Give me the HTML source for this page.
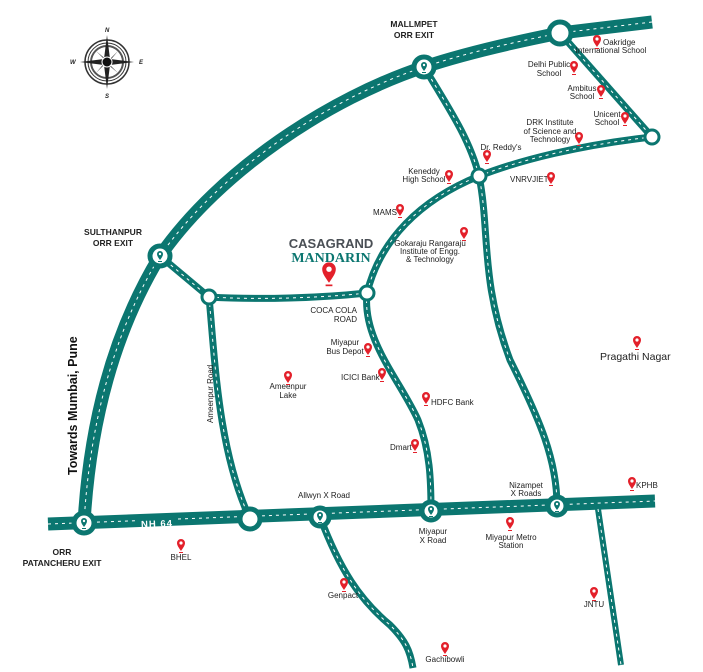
<!DOCTYPE html>
<html><head><meta charset="utf-8"><style>
html,body{margin:0;padding:0;background:#fff;}
svg{display:block;}
text{font-family:"Liberation Sans",sans-serif;fill:#222;}
.s{font-size:8px;}
.m{font-size:8.5px;font-weight:bold;}
</style></head><body>
<svg width="703" height="672" viewBox="0 0 703 672" xmlns="http://www.w3.org/2000/svg">
<defs>
<g id="pin"><path d="M0,4 C-2,1 -4,-1.5 -4,-4 A4,4 0 1 1 4,-4 C4,-1.5 2,1 0,4Z" fill="#e3202a"/><circle cx="0" cy="-4" r="1.6" fill="#fff"/><rect x="-2" y="5" width="4" height="1" fill="#e3202a"/></g>
<g id="tpin"><path d="M0,3 C-1.5,1 -3,-1 -3,-3 A3,3 0 1 1 3,-3 C3,-1 1.5,1 0,3Z" fill="#0b7670"/><circle cx="0" cy="-3" r="1.2" fill="#fff"/><rect x="-2" y="4" width="4" height="1" fill="#0b7670"/></g>
</defs>
<g fill="none" stroke="#0b7670" stroke-linecap="butt">
<path d="M652,22 L560,33 C500,45 460,55 424,67 C330,98 220,170 160,256 C115,330 90,420 84,523" stroke-width="13"/>
<path d="M48,524 L655,501" stroke-width="13"/>
<path d="M424,67 C450,110 470,140 479,176 C490,230 480,280 510,360 C540,420 557,460 557,506" stroke-width="7"/>
<path d="M560,33 L652,137" stroke-width="7"/>
<path d="M652,137 C580,145 520,160 479,176 C420,200 380,240 367,293" stroke-width="7"/>
<path d="M367,293 C362,340 400,380 418,420 C430,450 431,480 431,511" stroke-width="7"/>
<path d="M160,256 L209,297" stroke-width="7"/>
<path d="M209,297 C260,300 320,298 367,293" stroke-width="7"/>
<path d="M209,297 C215,360 218,450 250,519" stroke-width="7"/>
<path d="M320,517 C340,570 360,600 390,625 C405,640 410,650 413,668" stroke-width="7"/>
<path d="M598,509 L621,665" stroke-width="6"/>
</g>
<g fill="none" stroke="#fff" stroke-width="1" stroke-dasharray="3,4">
<path d="M652,22 L560,33 C500,45 460,55 424,67 C330,98 220,170 160,256 C115,330 90,420 84,523"/>
<path d="M48,524 L138,520.6 M178,519 L655,501"/>
<path d="M424,67 C450,110 470,140 479,176 C490,230 480,280 510,360 C540,420 557,460 557,506"/>
<path d="M560,33 L652,137"/>
<path d="M652,137 C580,145 520,160 479,176 C420,200 380,240 367,293"/>
<path d="M367,293 C362,340 400,380 418,420 C430,450 431,480 431,511"/>
<path d="M160,256 L209,297"/>
<path d="M209,297 C260,300 320,298 367,293"/>
<path d="M209,297 C215,360 218,450 250,519"/>
<path d="M320,517 C340,570 360,600 390,625 C405,640 410,650 413,668"/>
<path d="M598,509 L621,665"/>
</g>
<text x="141" y="527" font-size="9.5" font-weight="bold" style="fill:#fff;letter-spacing:1px" transform="rotate(-2 157 523)">NH 64</text>
<g fill="#fff" stroke="#0b7670">
<circle cx="560" cy="33" r="11" stroke-width="5"/>
<circle cx="424" cy="67" r="10" stroke-width="5"/>
<circle cx="160" cy="256" r="10" stroke-width="5"/>
<circle cx="84" cy="523" r="10" stroke-width="5"/>
<circle cx="250" cy="519" r="10" stroke-width="5"/>
<circle cx="320" cy="517" r="9" stroke-width="5"/>
<circle cx="431" cy="511" r="9" stroke-width="5"/>
<circle cx="557" cy="506" r="9" stroke-width="5"/>
<circle cx="652" cy="137" r="7" stroke-width="3"/>
<circle cx="479" cy="176" r="7" stroke-width="3"/>
<circle cx="367" cy="293" r="7" stroke-width="3"/>
<circle cx="209" cy="297" r="7" stroke-width="3"/>
</g>
<use href="#tpin" x="424" y="68"/><use href="#tpin" x="160" y="257"/><use href="#tpin" x="84" y="524"/>
<use href="#tpin" x="320" y="518"/><use href="#tpin" x="431" y="512"/><use href="#tpin" x="557" y="507"/>
<g transform="translate(107,62)">
<circle r="22" fill="none" stroke="#333" stroke-width="1.5"/><circle r="19" fill="none" stroke="#333" stroke-width="1"/><circle r="16" fill="none" stroke="#555" stroke-width="2"/>
<path d="M0,-27 L3,-3 L27,0 L3,3 L0,27 L-3,3 L-27,0 L-3,-3Z" fill="#222"/>
<path d="M-11,-11 L1,-1 L11,-11 L1,1 L11,11 L-1,1 L-11,11 L-1,-1Z" fill="#444"/>
<circle r="5" fill="#111" stroke="#fff" stroke-width="1"/>
<text x="-2" y="-30" font-size="6" font-style="italic" font-weight="bold">N</text>
<text x="-2" y="36" font-size="6" font-style="italic" font-weight="bold">S</text>
<text x="-37" y="2" font-size="6" font-style="italic" font-weight="bold">W</text>
<text x="32" y="2" font-size="6" font-style="italic" font-weight="bold">E</text>
</g>
<text class="m" x="414" y="27" text-anchor="middle">MALLMPET</text>
<text class="m" x="414" y="38" text-anchor="middle">ORR EXIT</text>
<text class="m" x="113" y="235" text-anchor="middle">SULTHANPUR</text>
<text class="m" x="113" y="246" text-anchor="middle">ORR EXIT</text>
<text class="m" x="62" y="555" text-anchor="middle">ORR</text>
<text class="m" x="62" y="566" text-anchor="middle">PATANCHERU EXIT</text>
<text x="77" y="475" font-size="12.5" font-weight="bold" transform="rotate(-90 77 475)" style="fill:#111">Towards Mumbai, Pune</text>
<text x="213" y="423" class="s" transform="rotate(-90 213 423)">Ameenpur Road</text>
<text x="331" y="248" text-anchor="middle" font-size="13" font-weight="bold" style="fill:#4a4f55">CASAGRAND</text>
<text x="331" y="262" text-anchor="middle" font-size="14" font-weight="bold" style="fill:#0b7670;font-family:'Liberation Serif',serif">MANDARIN</text>
<g transform="translate(329,276) scale(1.7)"><use href="#pin"/></g>
<text class="s" x="357" y="313" text-anchor="end">COCA COLA</text>
<text class="s" x="357" y="322" text-anchor="end">ROAD</text>
<text class="s" x="603" y="45">Oakridge</text>
<text class="s" x="611" y="53" text-anchor="middle">International School</text>
<text class="s" x="549" y="67" text-anchor="middle">Delhi Public</text><text class="s" x="549" y="76" text-anchor="middle">School</text>
<text class="s" x="582" y="91" text-anchor="middle">Ambitus</text><text class="s" x="582" y="99" text-anchor="middle">School</text>
<text class="s" x="607" y="117" text-anchor="middle">Unicent</text><text class="s" x="607" y="125" text-anchor="middle">School</text>
<text class="s" x="550" y="125" text-anchor="middle">DRK Institute</text><text class="s" x="550" y="134" text-anchor="middle">of Science and</text><text class="s" x="550" y="142" text-anchor="middle">Technology</text>
<text class="s" x="501" y="150" text-anchor="middle">Dr. Reddy's</text>
<text class="s" x="424" y="174" text-anchor="middle">Keneddy</text><text class="s" x="424" y="182" text-anchor="middle">High School</text>
<text class="s" x="510" y="182">VNRVJIET</text>
<text class="s" x="373" y="215">MAMS</text>
<text class="s" x="430" y="246" text-anchor="middle">Gokaraju Rangaraju</text><text class="s" x="430" y="254" text-anchor="middle">Institute of Engg.</text><text class="s" x="430" y="262" text-anchor="middle">&amp; Technology</text>
<text class="s" x="345" y="345" text-anchor="middle">Miyapur</text><text class="s" x="345" y="354" text-anchor="middle">Bus Depot</text>
<text class="s" x="341" y="380">ICICI Bank</text>
<text class="s" x="288" y="389" text-anchor="middle">Ameenpur</text><text class="s" x="288" y="398" text-anchor="middle">Lake</text>
<text class="s" x="431" y="405">HDFC Bank</text>
<text class="s" x="390" y="450">Dmart</text>
<text x="600" y="360" font-size="10.5" style="fill:#222">Pragathi Nagar</text>
<text class="s" x="636" y="488">KPHB</text>
<text class="s" x="526" y="488" text-anchor="middle">Nizampet</text><text class="s" x="526" y="496" text-anchor="middle">X Roads</text>
<text class="s" x="324" y="498" text-anchor="middle">Allwyn X Road</text>
<text class="s" x="433" y="534" text-anchor="middle">Miyapur</text><text class="s" x="433" y="543" text-anchor="middle">X Road</text>
<text class="s" x="511" y="540" text-anchor="middle">Miyapur Metro</text><text class="s" x="511" y="548" text-anchor="middle">Station</text>
<text class="s" x="181" y="560" text-anchor="middle">BHEL</text>
<text class="s" x="343" y="598" text-anchor="middle">Genpact</text>
<text class="s" x="594" y="607" text-anchor="middle">JNTU</text>
<text class="s" x="445" y="662" text-anchor="middle">Gachibowli</text>
<g>
<use href="#pin" x="597" y="43"/><use href="#pin" x="574" y="69"/><use href="#pin" x="601" y="93"/>
<use href="#pin" x="625" y="120"/><use href="#pin" x="579" y="140"/><use href="#pin" x="487" y="158"/>
<use href="#pin" x="449" y="178"/><use href="#pin" x="551" y="180"/><use href="#pin" x="400" y="212"/>
<use href="#pin" x="464" y="235"/><use href="#pin" x="368" y="351"/><use href="#pin" x="382" y="376"/>
<use href="#pin" x="288" y="379"/><use href="#pin" x="426" y="400"/><use href="#pin" x="415" y="447"/>
<use href="#pin" x="637" y="344"/><use href="#pin" x="632" y="485"/><use href="#pin" x="510" y="525"/>
<use href="#pin" x="181" y="547"/><use href="#pin" x="344" y="586"/><use href="#pin" x="594" y="595"/>
<use href="#pin" x="445" y="650"/>
</g>
</svg>
</body></html>
